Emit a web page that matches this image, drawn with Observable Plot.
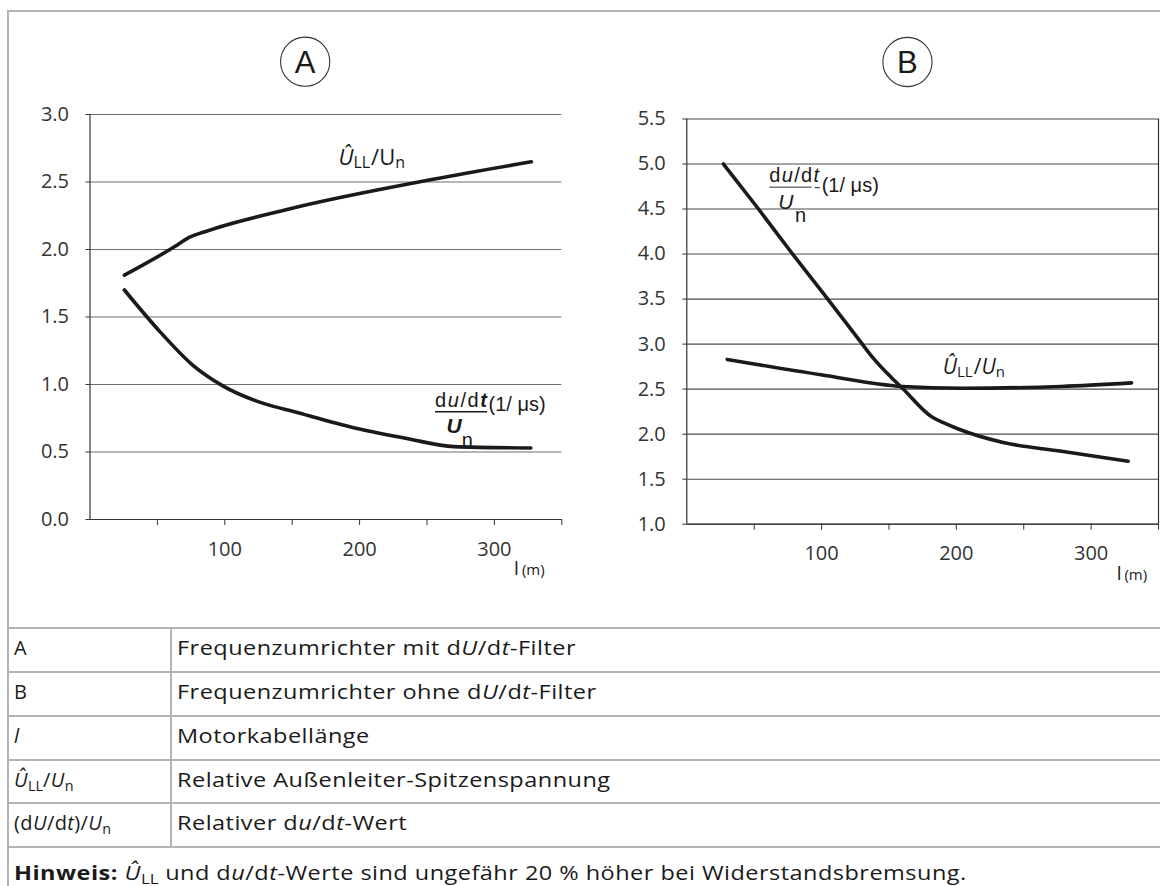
<!DOCTYPE html>
<html><head><meta charset="utf-8">
<script src="https://cdn.jsdelivr.net/npm/d3@7"></script>
<script src="https://cdn.jsdelivr.net/npm/@observablehq/plot@0.6"></script>
<style>
html,body{margin:0;padding:0;background:#fff;}
body{width:1160px;height:886px;overflow:hidden;position:relative;font-family:"Open Sans",sans-serif;color:#1a1a1a;}
.hl{position:absolute;left:7px;width:1160px;height:2px;background:#b4b4b4;}
.vl{position:absolute;width:2px;background:#b4b4b4;}
.cell{position:absolute;height:44px;line-height:44px;font-size:20px;white-space:nowrap;letter-spacing:0.4px;}
.cell.wide{transform:scaleX(1.175);transform-origin:0 50%;}
.cell i{font-style:italic;}
.cell sub{font-size:0.72em;vertical-align:-0.28em;line-height:0;letter-spacing:0;}
#chartA,#chartB{position:absolute;top:0;}
#chartA{left:0;} #chartB{left:580px;}
</style></head><body>
<div id="chartA"></div>
<div id="chartB"></div>
<script>
// ---------- data ----------
const xTicks = [50, 100, 150, 200, 250, 300, 350];
const xLabels = [100, 200, 300];
const yTicksA = [0, 0.5, 1.0, 1.5, 2.0, 2.5, 3.0];
const yTicksB = [1.0, 1.5, 2.0, 2.5, 3.0, 3.5, 4.0, 4.5, 5.0, 5.5];

// Chart A (mit dU/dt-Filter)
const lenA_ull   = [25.5, 62.6, 73.6, 84.6, 147.7, 254.7, 327.5];
const valA_ull   = [1.81, 2.02, 2.09, 2.13, 2.30, 2.52, 2.65];
const lenA_dudt  = [25.5, 52, 76.6, 98.5, 128.6, 153, 200, 235, 270, 327];
const valA_dudt  = [1.70, 1.39, 1.14, 0.99, 0.86, 0.795, 0.67, 0.60, 0.54, 0.53];

// Chart B (ohne dU/dt-Filter)
const lenB_dudt  = [27.2, 52.2, 77.5, 103.6, 129.7, 138, 151.7, 160, 182, 190, 201, 234, 278, 327.5];
const valB_dudt  = [5.00, 4.52, 4.02, 3.52, 3.01, 2.85, 2.63, 2.51, 2.19, 2.13, 2.06, 1.91, 1.81, 1.70];
const lenB_ull   = [30, 99.5, 160, 204, 278, 330];
const valB_ull   = [2.83, 2.66, 2.53, 2.51, 2.53, 2.57];

const tableKeys = ["A", "B", "<i>l</i>", "<i>Û</i><sub>LL</sub>/<i>U</i><sub>n</sub>", "(d<i>U</i>/d<i>t</i>)/<i>U</i><sub>n</sub>"];
const tableTexts = ["Frequenzumrichter mit d<i>U</i>/d<i>t</i>-Filter", "Frequenzumrichter ohne d<i>U</i>/d<i>t</i>-Filter", "Motorkabellänge", "Relative Außenleiter-Spitzenspannung", "Relativer d<i>u</i>/d<i>t</i>-Wert"];
const noteText = "<b>Hinweis:</b> <i>Û</i><sub>LL</sub> und d<i>u</i>/d<i>t</i>-Werte sind ungefähr 20 % höher bei Widerstandsbremsung.";

// ---------- charts ----------
const pts = (xs, ys) => xs.map((x, i) => ({x, y: ys[i]}));

function makeChart(cfg) {
  return Plot.plot({
    width: 580, height: 600,
    marginLeft: cfg.ml, marginRight: cfg.mr, marginTop: cfg.mt, marginBottom: cfg.mb,
    style: {background: "transparent", overflow: "visible", fontFamily: "'Open Sans', sans-serif", color: "#222"},
    x: {domain: [0, 350]},
    y: {domain: cfg.yDomain},
    marks: [
      Plot.gridY(cfg.yTicks, {stroke: cfg.grid, strokeOpacity: 1, strokeWidth: 1.1}),
      Plot.axisY(cfg.yTicks, {tickSize: 4, tickPadding: 17, tickFormat: d3.format(".1f"), fontSize: 20, label: null, color: "#333"}),
      Plot.axisX(xTicks, {tickSize: 6, tickPadding: 16, tickFormat: d => xLabels.includes(d) ? String(d) : "", fontSize: 20, label: null, color: "#333"}),
      Plot.ruleX([0], {stroke: "#333", strokeWidth: 1.2}),
      Plot.ruleY([cfg.yDomain[0]], {stroke: "#333", strokeWidth: 1.2}),
      cfg.rightFrame ? Plot.ruleX([350], {stroke: "#333", strokeWidth: 1.2}) : null,
      ...cfg.series.map(s => Plot.line(pts(s.x, s.y), {x: "x", y: "y", stroke: "#1a1a1a", strokeWidth: 3.6, curve: "monotone-x"}))
    ]
  });
}

const chartA = makeChart({
  ml: 89.5, mr: 18.7, mt: 114, mb: 81, yDomain: [0, 3], yTicks: yTicksA, grid: "#6e6e6e", rightFrame: false,
  series: [{x: lenA_ull, y: valA_ull}, {x: lenA_dudt, y: valA_dudt}]
});
const chartB = makeChart({
  ml: 106.3, mr: 2, mt: 118.5, mb: 76.3, yDomain: [1, 5.5], yTicks: yTicksB, grid: "#4a4a4a", rightFrame: true,
  series: [{x: lenB_dudt, y: valB_dudt}, {x: lenB_ull, y: valB_ull}]
});
document.getElementById("chartA").append(chartA);
document.getElementById("chartB").append(chartB);

// ---------- annotations (positioned through the plot scales) ----------
function annotate(chart, cfg) {
  const sx = chart.scale("x"), sy = chart.scale("y");
  const svg = d3.select(chart);
  const top = sy.apply(cfg.yTop), bottom = sy.apply(cfg.yBottom);
  // circled letter
  const cx = sx.apply(cfg.circleX), cy = top - cfg.circleDy;
  svg.append("circle").attr("cx", cx).attr("cy", cy).attr("r", 24.6)
     .attr("fill", "none").attr("stroke", "#333").attr("stroke-width", 1.1);
  svg.append("text").attr("x", cx).attr("y", cy + 11).attr("text-anchor", "middle")
     .attr("font-family", "'Liberation Sans', Arial, sans-serif").attr("font-size", 31).attr("fill", "#1a1a1a").text(cfg.letter);
  // l (m)
  const lt = svg.append("text").attr("x", sx.apply(cfg.lmX)).attr("y", bottom + 56).attr("text-anchor", "start")
     .attr("font-family", "'Open Sans', sans-serif").attr("fill", "#1a1a1a");
  lt.append("tspan").attr("font-size", 19).text("l");
  lt.append("tspan").attr("font-size", 15).attr("dx", 3).text("(m)");
  // Û_LL / U_n label
  const u = svg.append("text").attr("x", sx.apply(cfg.ullX)).attr("y", sy.apply(cfg.ullY)).attr("text-anchor", "start")
     .attr("font-family", "'Open Sans', sans-serif").attr("font-size", cfg.ullSize).attr("fill", "#1a1a1a");
  u.append("tspan").attr("font-style", "italic").text("Û");
  u.append("tspan").attr("font-size", cfg.ullSize - 6).attr("dy", 3).text("LL");
  u.append("tspan").attr("dy", -3).attr("dx", 1).text("/");
  u.append("tspan").attr("font-style", cfg.ullItalicU ? "italic" : "normal").text("U");
  u.append("tspan").attr("font-size", cfg.ullSize - 6).attr("dy", 3).text("n");
  // du/dt / U_n (1/µs) fraction label
  const g = svg.append("g").attr("transform", `translate(${sx.apply(cfg.fracX)},${sy.apply(cfg.fracY)})`)
     .attr("text-anchor", "start")
     .attr("font-family", "'Liberation Sans', Arial, sans-serif").attr("fill", "#1a1a1a");
  const t = g.append("text").attr("font-size", 20).attr("letter-spacing", cfg.bold ? 1.6 : 1.3);
  t.append("tspan").text("d");
  t.append("tspan").attr("font-style", "italic").text("u");
  t.append("tspan").text("/d");
  t.append("tspan").attr("font-style", "italic").attr("font-weight", cfg.bold ? "bold" : "normal").text("t");
  g.append("line").attr("x1", 0).attr("x2", cfg.fracW).attr("y1", 5).attr("y2", 5)
     .attr("stroke", "#1a1a1a").attr("stroke-width", cfg.bold ? 1.4 : 0.9);
  if (!cfg.bold) g.append("line").attr("x1", cfg.fracW + 3).attr("x2", cfg.fracW + 8).attr("y1", 5.5).attr("y2", 5.5)
     .attr("stroke", "#1a1a1a").attr("stroke-width", 1);
  g.append("text").attr("x", cfg.parX).attr("y", cfg.parY).attr("font-size", 20).text("(1/ μs)");
  g.append("text").attr("x", cfg.ux).attr("y", cfg.uy).attr("font-size", 21)
     .attr("font-style", "italic").attr("font-weight", cfg.bold ? "bold" : "normal").text("U");
  g.append("text").attr("x", cfg.nx).attr("y", cfg.ny).attr("font-size", 20).text("n");
}

annotate(chartA, {
  yTop: 3, yBottom: 0, circleX: 160, circleDy: 52.3, letter: "A", lmX: 315,
  ullX: 184.7, ullY: 2.622, ullItalicU: false, ullSize: 22,
  fracX: 256.3, fracY: 0.832, fracW: 52, bold: true,
  parX: 53.5, parY: 4, ux: 11.5, uy: 26.6, nx: 26.7, ny: 40
});
annotate(chartB, {
  yTop: 5.5, yBottom: 1, circleX: 164.1, circleDy: 56.5, letter: "B", lmX: 319.3,
  ullX: 190.3, ullY: 2.66, ullItalicU: true, ullSize: 21,
  fracX: 61.6, fracY: 4.793, fracW: 42.4, bold: false,
  parX: 52.4, parY: 10, ux: 9, uy: 26.7, nx: 25.7, ny: 39.4
});

// ---------- frame and legend table ----------
const body = document.body;
function div(cls, style, html) { const d = document.createElement("div"); d.className = cls; Object.assign(d.style, style); if (html) d.innerHTML = html; body.append(d); return d; }
div("hl", {top: "10px"});
div("vl", {left: "7px", top: "10px", height: "900px"});
const rowTops = [627, 671, 715, 759, 802, 846];
rowTops.forEach(y => div("hl", {top: y + "px"}));
div("vl", {left: "170px", top: "627px", height: (846 - 627) + "px"});
tableKeys.forEach((k, i) => {
  div("cell", {left: "14px", top: (rowTops[i] - 1) + "px"}, k);
  div("cell wide", {left: "177px", top: (rowTops[i] - 1) + "px"}, tableTexts[i]);
});
div("cell wide", {left: "14px", top: (846 + 5) + "px"}, noteText);
</script>
</body></html>
